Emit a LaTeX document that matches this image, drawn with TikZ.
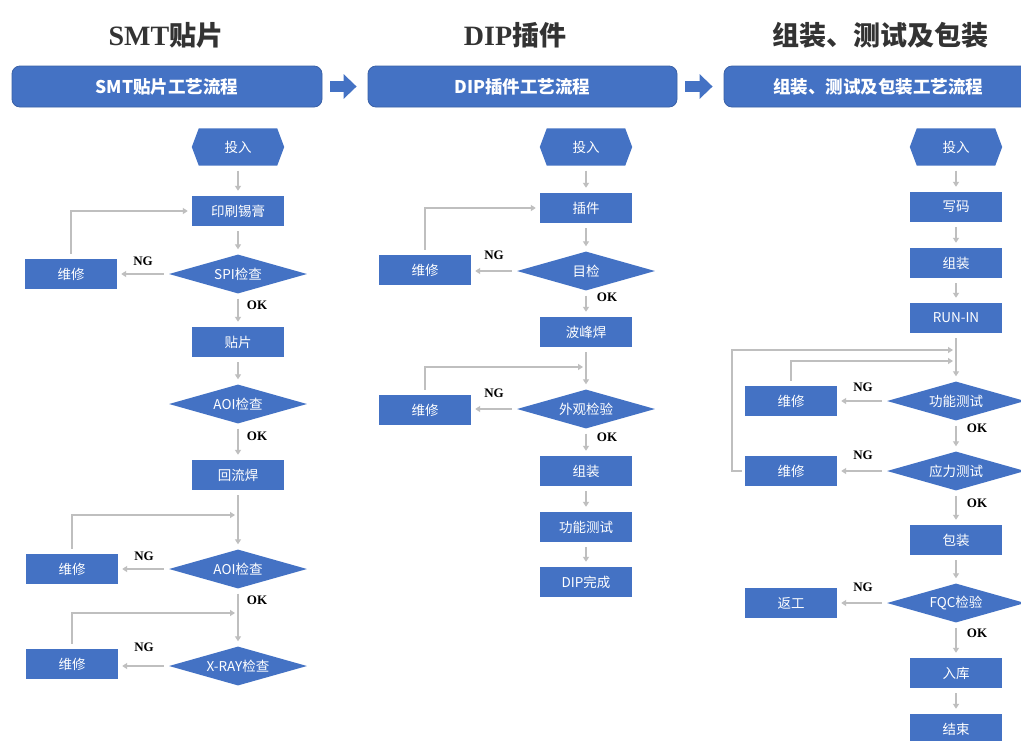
\documentclass[tikz,border=0pt]{standalone}
\usepackage{fontspec}
\setmainfont{Liberation Serif}
\newfontfamily\cjk{Noto Sans CJK SC}
\usetikzlibrary{arrows.meta,shapes.geometric,calc,backgrounds}
\definecolor{boxblue}{HTML}{4472C4}
\definecolor{lineg}{HTML}{BFBFBF}
\definecolor{hdrgray}{HTML}{333333}
\tikzset{
  box/.style={fill=boxblue, text=white, minimum width=92, minimum height=30, inner sep=0, font=\cjk\fontsize{13.5}{14}\selectfont},
  dia/.style={diamond, aspect=3.5, fill=boxblue, text=white, minimum width=138, minimum height=39, inner sep=0, font=\cjk\fontsize{13.5}{14}\selectfont},
  hexnode/.style={text=white, minimum width=92, minimum height=37, inner sep=0, font=\cjk\fontsize{13.5}{14}\selectfont},
  conn/.style={draw=lineg, line width=2pt, -{Triangle[length=5pt,width=6pt]}},
  lbl/.style={font=\bfseries\fontsize{13}{14}\selectfont, text=black, inner sep=0},
  banner/.style={rounded corners=8pt, fill=boxblue, draw=boxblue!85!black, line width=0.8pt, minimum height=41, inner sep=0, text=white, font=\cjk\bfseries\fontsize{17.5}{18}\selectfont},
  hdr/.style={text=hdrgray, inner sep=0},
  bigarrow/.style={draw=boxblue, line width=11pt, -{Triangle[length=13pt,width=24pt]}}
}
\newcommand\hexfill[1]{\fill[boxblue] (#1.west) -- ($(#1.north west)+(7,0)$) -- ($(#1.north east)+(-7,0)$) -- (#1.east) -- ($(#1.south east)+(-7,0)$) -- ($(#1.south west)+(7,0)$) -- cycle;}
\newcommand\hdrlat{\bfseries\fontsize{28}{30}\selectfont}
\newcommand\hdrcjk{\cjk\bfseries\fontsize{27}{30}\selectfont}
% vertical and horizontal connectors
\newcommand\vconn[2]{\draw[conn, shorten <=5pt, shorten >=5pt] (#1.south) -- (#1.south |- #2.north);}
\newcommand\hconn[2]{\draw[conn, shorten <=5pt, shorten >=4pt] (#1.west) -- (#1.west -| #2.east);}
\begin{document}
\begin{tikzpicture}[x=1pt,y=-1pt]
\useasboundingbox (0,0) rectangle (1021,740);
\begin{scope}[on background layer]
\fill[white] (0,0) rectangle (1021,740);
\end{scope}
\begin{scope}
\clip (0,0) rectangle (1021,740);
% headers
\node[hdr] (h1) at (166,35) {{\hdrlat SMT}{\hdrcjk 贴片}};
\node[hdr] (h2) at (515,35) {{\hdrlat DIP}{\hdrcjk 插件}};
\node[hdr] (h3) at (880,35) {\hdrcjk 组装、测试及包装};
% banners
\node[banner, minimum width=310] (b1) at (167,86.5) {SMT贴片工艺流程};
\node[banner, minimum width=309] (b2) at (522.5,86.5) {DIP插件工艺流程};
\node[banner, minimum width=308] (b3) at (878,86.5) {组装、测试及包装工艺流程};
\draw[bigarrow, shorten <=8pt, shorten >=11pt] (b1.east) -- (b2.west);
\draw[bigarrow, shorten <=8pt, shorten >=11pt] (b2.east) -- (b3.west);

% ===== left column =====
\node[hexnode] (l0) at (238,147) {投入};
\node[box] (l1) at (238,211) {印刷锡膏};
\node[dia] (l2) at (238,274) {SPI检查};
\node[box] (lr1) at (71,274) {维修};
\node[box] (l3) at (238,342) {贴片};
\node[dia] (l4) at (238,404) {AOI检查};
\node[box] (l5) at (238,475) {回流焊};
\node[dia] (l6) at (238,569) {AOI检查};
\node[box] (lr2) at (72,569) {维修};
\node[dia] (l7) at (238,666) {X-RAY检查};
\node[box] (lr3) at (72,664) {维修};
\node[lbl] (lng1) at (143,261) {NG};
\node[lbl] (lok1) at (257,305) {OK};
\node[lbl] (lok2) at (257,436) {OK};
\node[lbl] (lng2) at (144,556) {NG};
\node[lbl] (lok3) at (257,600) {OK};
\node[lbl] (lng3) at (144,647) {NG};
\coordinate (lj1) at (238,515);
\coordinate (lj2) at (238,613);

\vconn{l0}{l1}
\vconn{l1}{l2}
\hconn{l2}{lr1}
\draw[conn, shorten <=5pt, shorten >=4pt] (lr1.north) |- (l1.west);
\vconn{l2}{l3}
\vconn{l3}{l4}
\vconn{l4}{l5}
\vconn{l5}{l6}
\hconn{l6}{lr2}
\draw[conn, shorten <=5pt, shorten >=3pt] (lr2.north) |- (lj1);
\vconn{l6}{l7}
\hconn{l7}{lr3}
\draw[conn, shorten <=5pt, shorten >=3pt] (lr3.north) |- (lj2);

% ===== middle column =====
\node[hexnode] (m0) at (586,147) {投入};
\node[box] (m1) at (586,208) {插件};
\node[dia] (m2) at (586,271) {目检};
\node[box] (mr1) at (425,270) {维修};
\node[box] (m3) at (586,332) {波峰焊};
\node[dia] (m4) at (586,409) {外观检验};
\node[box] (mr2) at (425,410) {维修};
\node[box] (m5) at (586,471) {组装};
\node[box] (m6) at (586,527) {功能测试};
\node[box] (m7) at (586,582) {DIP完成};
\node[lbl] (mng1) at (494,255) {NG};
\node[lbl] (mok1) at (607,297) {OK};
\node[lbl] (mng2) at (494,393) {NG};
\node[lbl] (mok2) at (607,437) {OK};
\coordinate (mj1) at (586,367);

\vconn{m0}{m1}
\vconn{m1}{m2}
\hconn{m2}{mr1}
\draw[conn, shorten <=5pt, shorten >=4pt] (mr1.north) |- (m1.west);
\vconn{m2}{m3}
\vconn{m3}{m4}
\hconn{m4}{mr2}
\draw[conn, shorten <=5pt, shorten >=3pt] (mr2.north) |- (mj1);
\vconn{m4}{m5}
\vconn{m5}{m6}
\vconn{m6}{m7}

% ===== right column =====
\node[hexnode] (r0) at (956,147) {投入};
\node[box] (r1) at (956,207) {写码};
\node[box] (r2) at (956,263) {组装};
\node[box] (r3) at (956,318) {RUN-IN};
\node[dia] (r4) at (956,401) {功能测试};
\node[box] (rr1) at (791,401) {维修};
\node[dia] (r5) at (956,471) {应力测试};
\node[box] (rr2) at (791,471) {维修};
\node[box] (r6) at (956,540) {包装};
\node[dia] (r7) at (956,603) {FQC检验};
\node[box] (rr3) at (791,603) {返工};
\node[box] (r8) at (956,673) {入库};
\node[box] (r9) at (956,729) {结束};
\node[lbl] (rng1) at (863,387) {NG};
\node[lbl] (rok1) at (977,428) {OK};
\node[lbl] (rng2) at (863,455) {NG};
\node[lbl] (rok2) at (977,503) {OK};
\node[lbl] (rng3) at (863,587) {NG};
\node[lbl] (rok3) at (977,633) {OK};
\coordinate (rj1) at (956,350);
\coordinate (rj2) at (956,361);
\coordinate (rc) at (732,471);

\vconn{r0}{r1}
\vconn{r1}{r2}
\vconn{r2}{r3}
\vconn{r3}{r4}
\hconn{r4}{rr1}
\draw[conn, shorten <=5pt, shorten >=3pt] (rr1.north) |- (rj2);
\vconn{r4}{r5}
\hconn{r5}{rr2}
\draw[conn, shorten <=3pt, shorten >=3pt] (rr2.west) -- (rc) |- (rj1);
\vconn{r5}{r6}
\vconn{r6}{r7}
\hconn{r7}{rr3}
\vconn{r7}{r8}
\vconn{r8}{r9}
\end{scope}
\begin{scope}[on background layer]
\hexfill{l0}
\hexfill{m0}
\hexfill{r0}
\end{scope}
\end{tikzpicture}
\end{document}
